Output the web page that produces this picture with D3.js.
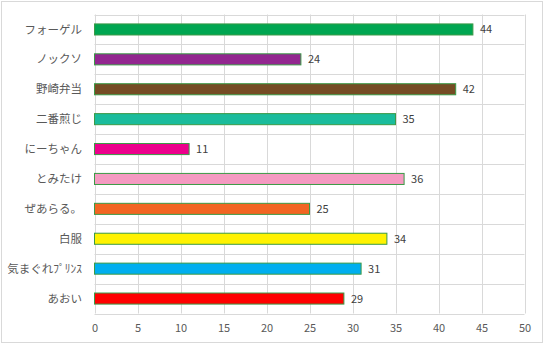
<!DOCTYPE html>
<html>
<head>
<meta charset="utf-8">
<script src="https://cdn.jsdelivr.net/npm/d3@7"></script>
<style>
  html, body { margin: 0; padding: 0; background: #fff; }
  svg { display: block; }
</style>
</head>
<body>
<svg id="chart" width="545" height="345"></svg>
<script>
// Categories top to bottom, with their values and bar colours
const categories = ["フォーゲル", "ノックソ", "野崎弁当", "二番煎じ", "にーちゃん", "とみたけ", "ぜあらる。", "白服", "気まぐれﾌﾟﾘﾝｽ", "あおい"];
const values = [44, 24, 42, 35, 11, 36, 25, 34, 31, 29];
const colors = ["#00A651", "#92278F", "#754C24", "#1ABC9C", "#EC008C", "#F49AC1", "#F26522", "#FFF200", "#00AEEF", "#FF0000"];
const xTicks = [0, 5, 10, 15, 20, 25, 30, 35, 40, 45, 50];

const svg = d3.select("#chart");
const font = "'Noto Sans CJK JP', 'Noto Sans', sans-serif";

// Chart frame
svg.append("rect")
  .attr("x", 1.5).attr("y", 1.5)
  .attr("width", 541).attr("height", 341)
  .attr("fill", "#fff").attr("stroke", "#d9d9d9");

const plot = { left: 94.5, right: 524.5, top: 14.5, bottom: 313.5 };

const x = d3.scaleLinear().domain([0, 50]).range([plot.left, plot.right]);
const y = d3.scaleBand().domain(categories).range([plot.top, plot.bottom]).paddingInner(0.63).paddingOuter(0.315);
const yb = d3.scaleBand().domain(categories).range([plot.top, plot.bottom]);

// Gridlines
const grid = svg.append("g").attr("stroke", "#d9d9d9").attr("stroke-width", 1);
grid.selectAll("line.v").data(xTicks).join("line")
  .attr("class", "v")
  .attr("x1", d => Math.round(x(d)) + 0.5).attr("x2", d => Math.round(x(d)) + 0.5)
  .attr("y1", plot.top).attr("y2", plot.bottom);
const hLines = categories.map(c => yb(c)).concat([plot.bottom]);
grid.selectAll("line.h").data(hLines).join("line")
  .attr("class", "h")
  .attr("x1", plot.left).attr("x2", plot.right)
  .attr("y1", d => Math.round(d) + 0.5).attr("y2", d => Math.round(d) + 0.5);

// Bars
const data = categories.map((c, i) => ({ c, v: values[i], color: colors[i] }));
svg.append("g").selectAll("rect").data(data).join("rect")
  .attr("x", x(0))
  .attr("y", d => y(d.c))
  .attr("width", d => x(d.v) - x(0))
  .attr("height", y.bandwidth())
  .attr("fill", d => d.color)
  .attr("stroke", "#3B9A46")
  .attr("stroke-width", 1);

// Value labels
svg.append("g").selectAll("text").data(data).join("text")
  .attr("x", d => x(d.v) + 7)
  .attr("y", d => y(d.c) + y.bandwidth() / 2)
  .attr("dy", "0.36em")
  .attr("font-family", font).attr("font-size", 11)
  .attr("fill", "#404040")
  .text(d => d.v);

// Category axis labels
svg.append("g").selectAll("text").data(categories).join("text")
  .attr("x", 82)
  .attr("y", d => y(d) + y.bandwidth() / 2)
  .attr("dy", "0.36em")
  .attr("text-anchor", "end")
  .attr("font-family", font).attr("font-size", 11.5)
  .attr("fill", "#595959")
  .text(d => d);

// Value axis
const xAxis = svg.append("g")
  .attr("transform", `translate(0,${plot.bottom})`)
  .call(d3.axisBottom(x).tickValues(xTicks).tickSize(0).tickPadding(11));
xAxis.select(".domain").remove();
xAxis.selectAll("text")
  .attr("font-family", font).attr("font-size", 11)
  .attr("fill", "#595959");
</script>
</body>
</html>
